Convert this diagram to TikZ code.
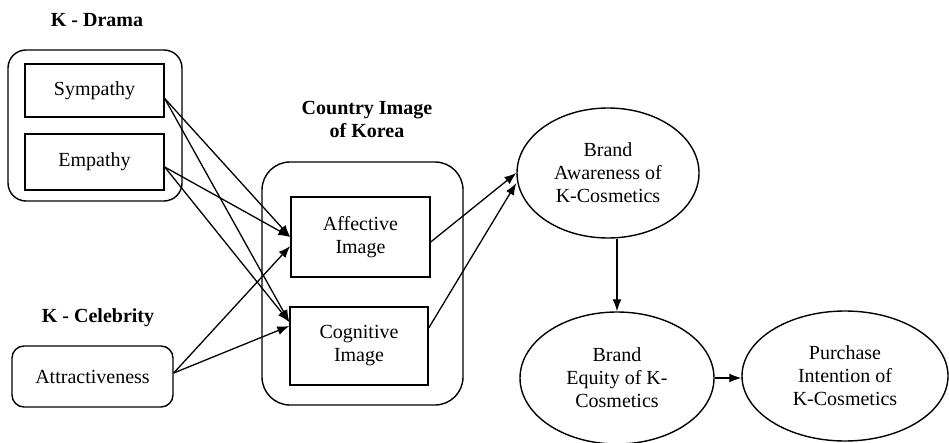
\documentclass[tikz,border=0pt]{standalone}
\usepackage{fontspec}
\setmainfont{Liberation Serif}
\usetikzlibrary{arrows.meta,shapes.geometric}
\begin{document}
\begin{tikzpicture}[x=1pt,y=-1pt,
  txt/.style={font=\fontsize{20}{23}\selectfont, align=center, inner sep=0pt},
  lbl/.style={font=\fontsize{20}{23}\selectfont\bfseries, align=center, inner sep=0pt},
  box/.style={draw, line width=1.4pt, rectangle, txt},
  grp/.style={draw, line width=1.4pt, inner sep=0pt, txt},
  ell/.style={draw, ellipse, line width=1.4pt, txt},
  arr/.style={-{Latex[length=12pt,width=9pt]}, line width=1.3pt}]
\useasboundingbox (0,0) rectangle (949,443);

% labels
\node[lbl] (ldrama) at (97,20) {K - Drama};
\node[lbl] (lceleb) at (98,318) {K - Celebrity};
\node[lbl] (lcountry) at (367,119) {Country Image\\of Korea};

% groups
\node[grp, rounded corners=18pt, minimum width=174pt, minimum height=151pt] (drama) at (95,125.5) {};
\node[grp, rounded corners=28pt, minimum width=201pt, minimum height=243pt] (country) at (362.5,283.5) {};

% boxes
\node[box, minimum width=139pt, minimum height=53pt] (sym) at (94.5,90.5) {Sympathy};
\node[box, minimum width=139pt, minimum height=56pt] (emp) at (94.5,162) {Empathy};
\node[box, rounded corners=12pt, minimum width=161pt, minimum height=61pt] (att) at (92.5,376.5) {Attractiveness};
\node[box, minimum width=139pt, minimum height=80pt] (aff) at (360.5,237) {Affective\\Image};
\node[box, minimum width=138pt, minimum height=78pt] (cog) at (359,346) {Cognitive\\Image};

% ellipses
\node[ell, minimum width=182pt, minimum height=130pt] (aw) at (608,173) {Brand\\Awareness of\\K-Cosmetics};
\node[ell, minimum width=194pt, minimum height=132pt] (eq) at (617,378) {Brand\\Equity of K-\\Cosmetics};
\node[ell, minimum width=206pt, minimum height=130pt] (pi) at (845,376) {Purchase\\Intention of\\K-Cosmetics};

% connectors
\draw[arr] ([yshift=-8pt]sym.east) -- (aff.west);
\draw[arr] ([yshift=-8pt]sym.east) -- ([yshift=24pt]cog.west);
\draw[arr] ([yshift=-5pt]emp.east) -- (aff.west);
\draw[arr] ([yshift=-5pt]emp.east) -- ([yshift=24pt]cog.west);
\draw[arr] ([yshift=3.5pt]att.east) -- ([yshift=-9pt]aff.west);
\draw[arr] ([yshift=3.5pt]att.east) -- ([yshift=20pt]cog.west);
\draw[arr] ([yshift=-5pt]aff.east) -- (aw.west);
\draw[arr] ([yshift=18pt]cog.east) -- ([yshift=-10pt]aw.west);
\draw[arr] (aw.south -| eq.north) -- (eq.north);
\draw[arr] (eq.east) -- (eq.east -| pi.west);
\end{tikzpicture}
\end{document}
